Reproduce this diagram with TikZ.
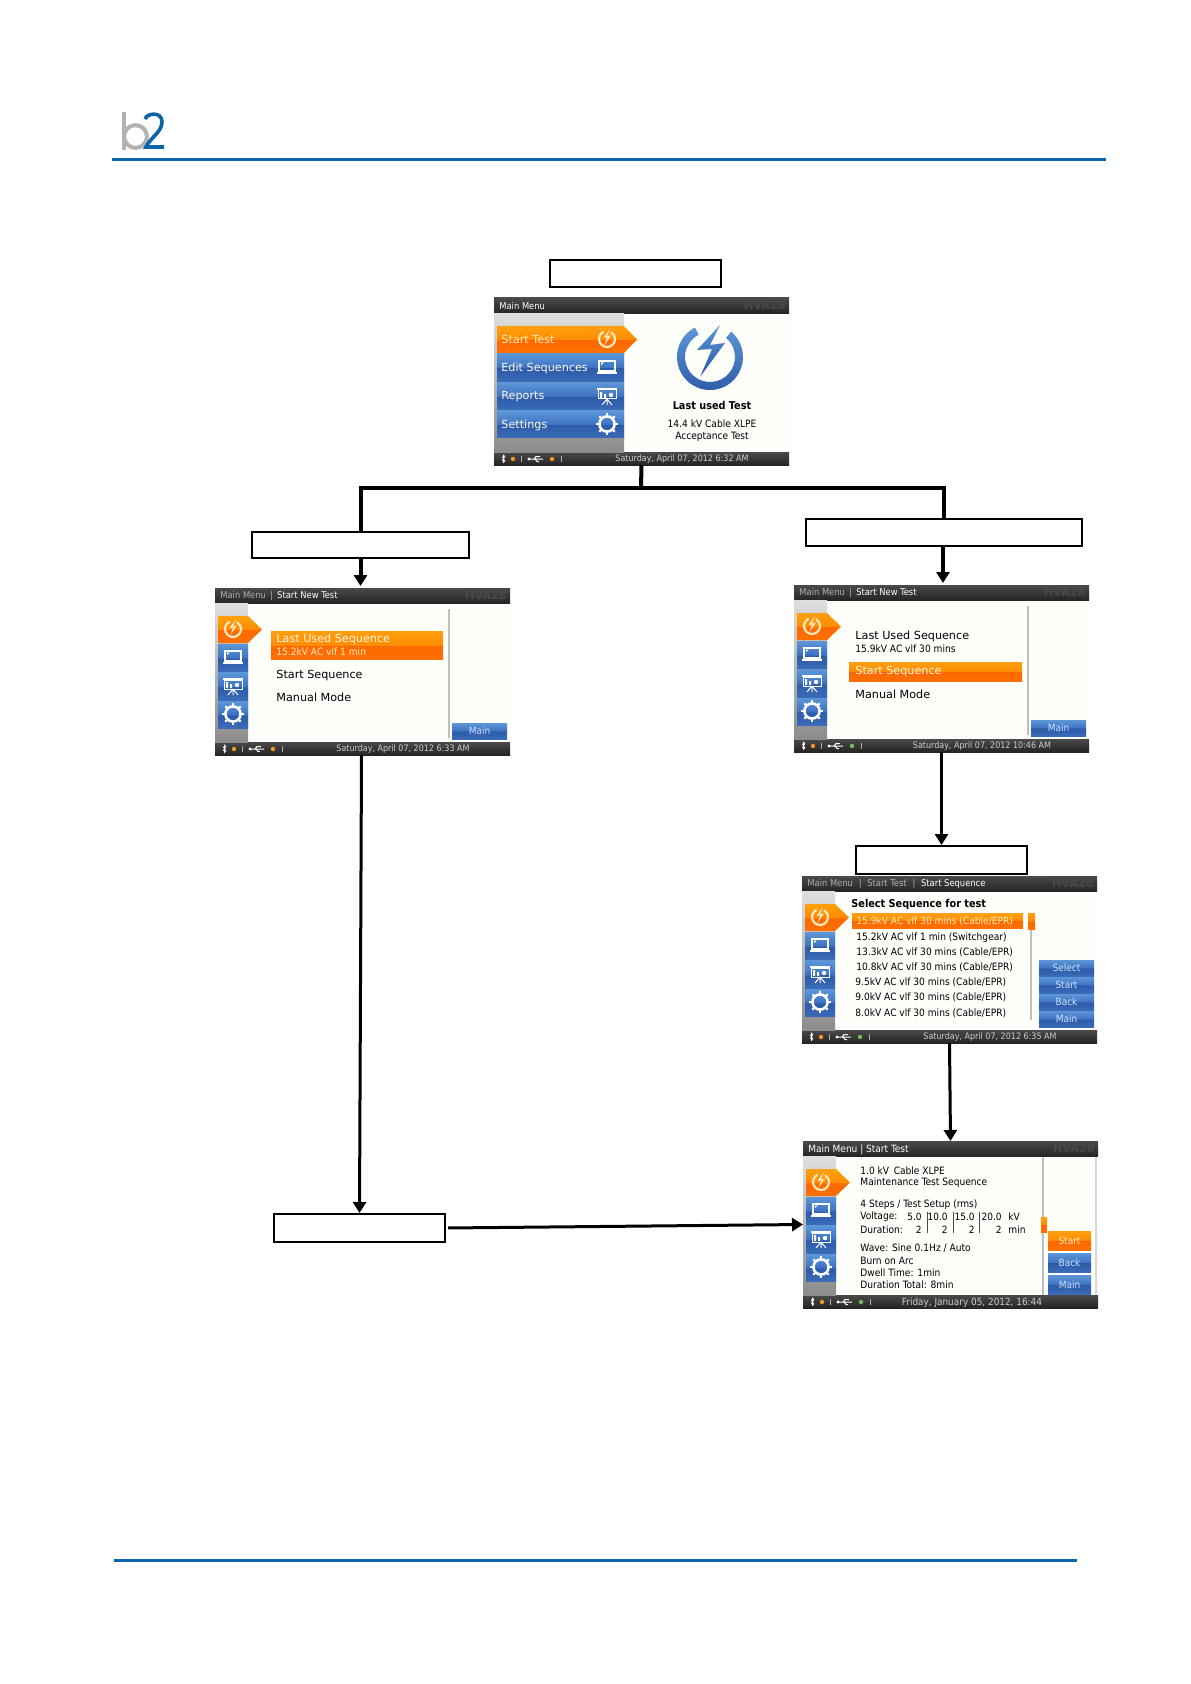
\documentclass[tikz,border=0pt]{standalone}
\usepackage{xcolor}
\usepackage{fontspec}
\setmainfont{DejaVu Sans}
\newfontfamily\narrowfont{DejaVu Sans Condensed}
\usetikzlibrary{arrows.meta,positioning,calc}
\definecolor{ruleblue}{RGB}{10,100,170}
\definecolor{logogray}{RGB}{178,178,178}
\definecolor{panelwhite}{RGB}{254,254,250}
\definecolor{barhigh}{RGB}{92,150,215}
\definecolor{barmid}{RGB}{62,115,195}
\definecolor{barlow}{RGB}{44,90,168}
\definecolor{barbase}{RGB}{58,108,184}
\definecolor{orhigh}{RGB}{255,160,16}
\definecolor{ormid}{RGB}{255,140,0}
\definecolor{orlow}{RGB}{255,104,0}
\definecolor{orbase}{RGB}{255,112,0}
\definecolor{paleorange}{RGB}{255,232,190}
\definecolor{darkhigh}{RGB}{74,74,74}
\definecolor{darklow}{RGB}{36,36,36}
\definecolor{ghost}{RGB}{72,72,72}
\definecolor{dimtext}{RGB}{176,176,176}
\definecolor{datetext}{RGB}{205,205,205}
\definecolor{btntext}{RGB}{205,225,250}
\definecolor{sidehigh}{RGB}{222,222,222}
\definecolor{sidelow}{RGB}{140,140,140}
\definecolor{ledorange}{RGB}{240,150,40}
\definecolor{ledgreen}{RGB}{110,190,90}
\definecolor{linegray}{RGB}{190,190,190}
\pgfdeclareverticalshading{bluegloss}{100bp}{color(0bp)=(barbase);color(25bp)=(barbase);color(49.9bp)=(barlow);color(50bp)=(barmid);color(75bp)=(barhigh);color(100bp)=(barhigh)}
\pgfdeclareverticalshading{orangegloss}{100bp}{color(0bp)=(orbase);color(25bp)=(orbase);color(49.9bp)=(orlow);color(50bp)=(ormid);color(75bp)=(orhigh);color(100bp)=(orhigh)}
% screen frame: title bar, status bar
\newcommand{\hvabase}[7]{%
  \begin{scope}[shift={(#2,#3)}]
    \node[screenbody] (#1) at (147.5,83.5) {};
    \shade[top color=darkhigh,bottom color=darklow] (0,0) rectangle (295,15.5);
    \shade[top color=darkhigh,bottom color=darklow] (0,154) rectangle (295,167);
    \node[crumb] (#1crumb) at (5,8.5) {#4};
    \node[ghostmark] (#1mark) at (292,7.8) {HVA28};
    \draw[white,line width=.3pt] (8,158.5) -- (11,163) -- (9.5,164.5) -- (9.5,157) -- (11,158.5) -- (8,163);
    \fill[ledorange] (19,161) circle (1.1pt);
    \draw[dimtext,line width=.3pt] (27,158) -- (27,164);
    \draw[white,line width=.5pt] (35,161) -- (49,161) (40,161) -- (42,158.5) -- (46,158.5) (41,161) -- (43,163.5) -- (45,163.5);
    \fill[white] (35,161) circle (.8pt);
    \fill[#6] (58,161) circle (1.1pt);
    \draw[dimtext,line width=.3pt] (67,158) -- (67,164);
    \node[datestamp] (#1date) at (#7,161.5) {#5};
  \end{scope}}
% icons, all at centre coordinates
\newcommand{\iconbolt}[2]{%
  \draw[paleorange,line width=1.1pt] (#1,#2) ++(115:4pt) arc[start angle=115,end angle=420,radius=4pt];
  \begin{scope}[shift={(#1,#2)}]
    \fill[paleorange] (3,-10) -- (-3.5,-1) -- (0,-1.5) -- (-2.5,6) -- (4,-3.5) -- (0,-3) -- cycle;
  \end{scope}}
\newcommand{\iconmonitor}[2]{%
  \begin{scope}[shift={(#1,#2)}]
    \draw[white,line width=.6pt] (-8,-6) rectangle (8,4);
    \draw[white,line width=.7pt] (-10,6) -- (10,6);
    \fill[white] (-6,-4.5) -- (-3,-4.5) -- (-6,-2) -- cycle;
  \end{scope}}
\newcommand{\iconboard}[2]{%
  \begin{scope}[shift={(#1,#2)}]
    \fill[white] (-10,-8) rectangle (10,-6);
    \draw[white,line width=.5pt] (-9,-6) rectangle (9,3);
    \fill[white] (-7,-4) rectangle (-5,2) (-3,-2) rectangle (-1,2);
    \fill[white] (4,-1) circle (1.1pt);
    \draw[white,line width=.5pt] (0,3) -- (-5,9) (0,3) -- (5,9) (0,3) -- (0,9);
  \end{scope}}
\newcommand{\icongear}[2]{%
  \begin{scope}[shift={(#1,#2)}]
    \draw[white,line width=1.3pt] (0,0) circle (3.8pt);
    \foreach \a in {0,45,...,315}
      \draw[white,line width=1.1pt] (\a:4.2pt) -- (\a:5.4pt);
  \end{scope}}
% narrow icon column of the inner screens
\newcommand{\hvaside}{%
  \shade[top color=sidehigh,bottom color=sidelow] (0,15.5) rectangle (33,154);
  \shade[shading=orangegloss] (3,28) -- (33,28) -- (47,41.5) -- (33,55) -- (3,55) -- cycle;
  \shade[shading=bluegloss] (3,56) rectangle (33,83.5);
  \shade[shading=bluegloss] (3,84.5) rectangle (33,112);
  \shade[shading=bluegloss] (3,113) rectangle (33,140);
  \iconbolt{18}{41}
  \iconmonitor{18}{69}
  \iconboard{18}{98}
  \icongear{18}{126}}
\begin{document}
\begin{tikzpicture}[x=.5pt,y=-.5pt,
  labelbox/.style={draw=black,line width=1pt,fill=white,inner sep=0pt},
  screenbody/.style={fill=panelwhite,inner sep=0pt,outer sep=0pt,minimum width=147.5pt,minimum height=83.5pt},
  crumb/.style={anchor=west,inner sep=0pt,text=white,font=\narrowfont\fontsize{4.65}{5}\selectfont},
  ghostmark/.style={anchor=east,inner sep=0pt,text=ghost,font=\bfseries\fontsize{5.6}{6}\selectfont},
  datestamp/.style={inner sep=0pt,text=datetext,font=\narrowfont\fontsize{4.45}{5}\selectfont},
  menutext/.style={anchor=west,inner sep=0pt,text=paleorange!40!white,font=\fontsize{5.6}{6}\selectfont},
  bodytext/.style={anchor=west,inner sep=0pt,text=black,font=\fontsize{5.6}{6}\selectfont},
  smalltext/.style={anchor=west,inner sep=0pt,text=black,font=\narrowfont\fontsize{5.05}{6}\selectfont},
  numtext/.style={anchor=east,inner sep=0pt,text=black,font=\narrowfont\fontsize{5}{6}\selectfont},
  hvabtn/.style={shade,shading=bluegloss,inner sep=0pt,text=btntext,font=\narrowfont\fontsize{5}{6}\selectfont},
  arrow/.style={-{Triangle[length=5.5pt,width=6.5pt]},line width=1.5pt,draw=black},
  heavy/.style={-{Triangle[length=5.5pt,width=6.5pt]},line width=2pt,draw=black,shorten >=1pt},
  branch/.style={line width=2pt,draw=black}
]
  \useasboundingbox (0,0) rectangle (1190,1684);
  % page furniture
  \draw[ruleblue,line width=1.5pt] (112,160) -- (1106,160);
  \draw[ruleblue,line width=1.5pt] (114,1560) -- (1077,1560);
  \draw[logogray,line width=2pt] (124,112) -- (124,150);
  \draw[logogray,line width=2pt] (135.5,136.5) circle (5.7pt);
  \draw[ruleblue,line width=1.8pt] (145,119) .. controls (147,113) and (162,111) .. (162,122) .. controls (162,132) and (150,138) .. (146,147) -- (164,147);

  % main menu
  \hvabase{mainmenu}{494}{298}{Main Menu}{Saturday, April 07, 2012 6:32 AM}{ledorange}{188}
  \begin{scope}[shift={(494,298)}]
    \shade[top color=sidehigh,bottom color=sidelow] (0,15.5) rectangle (130,154);
    \shade[shading=orangegloss] (3,28) -- (130,28) -- (143,41.5) -- (130,55) -- (3,55) -- cycle;
    \shade[shading=bluegloss] (3,56) rectangle (130,83.5);
    \shade[shading=bluegloss] (3,84.5) rectangle (130,112);
    \shade[shading=bluegloss] (3,113) rectangle (130,140);
    \node[menutext,text=paleorange] (starttest) at (7,41) {Start Test};
    \node[menutext] (editseq) at (7,70.5) {Edit Sequences};
    \node[menutext] (reports) at (7,99) {Reports};
    \node[menutext] (settings) at (7,127) {Settings};
    \iconbolt{113}{41}
    \iconmonitor{113}{69}
    \iconboard{113}{98}
    \icongear{113}{126}
    \shade[top color=barhigh,bottom color=barlow]
      (216,59) ++(117:16.5pt) arc[start angle=117,end angle=410,radius=16.5pt]
      -- ($(216,59)+(50:12.5pt)$) arc[start angle=410,end angle=117,radius=12.5pt] -- cycle;
    \begin{scope}[shift={(216,59)}]
      \shade[top color=barhigh,bottom color=barlow] (10,-32) -- (-13,-7) -- (2,-8) -- (-10,20) -- (15,-14) -- (0,-12) -- cycle;
    \end{scope}
    \node[inner sep=0pt,font=\narrowfont\bfseries\fontsize{5.4}{6}\selectfont] (lastused) at (218,107) {Last used Test};
    \node[inner sep=0pt,font=\narrowfont\fontsize{5.05}{6}\selectfont] (lastcable) at (218,125.5) {14.4 kV Cable XLPE};
    \node[inner sep=0pt,font=\narrowfont\fontsize{5.05}{6}\selectfont] (lastaccept) at (218,138.5) {Acceptance Test};
  \end{scope}

  % start test, last used sequence
  \hvabase{lastscreen}{215}{588}{\textcolor{dimtext}{Main Menu \,|} \,Start New Test}{Saturday, April 07, 2012 6:33 AM}{ledorange}{188}
  \begin{scope}[shift={(215,588)}]
    \hvaside
    \shade[shading=orangegloss] (56,43) rectangle (228,71);
    \node[menutext] (lastseq) at (61,51) {Last Used Sequence};
    \node[smalltext,text=paleorange] (lastvalue) at (61,64) {15.2kV AC vlf 1 min};
    \node[bodytext] (laststart) at (61,87.5) {Start Sequence};
    \node[bodytext] (lastmanual) at (61,109) {Manual Mode};
    \draw[linegray,line width=.6pt] (234,21) -- (234,150);
    \node[hvabtn,minimum width=27.5pt,minimum height=8pt] (lastmain) at (264.5,143) {Main};
  \end{scope}

  % start test, start sequence
  \hvabase{startscreen}{794}{585}{\textcolor{dimtext}{Main Menu \,|} \,Start New Test}{Saturday, April 07, 2012 10:46 AM}{ledgreen}{188}
  \begin{scope}[shift={(794,585)}]
    \hvaside
    \shade[shading=orangegloss] (55,77) rectangle (228,96);
    \node[bodytext] (startlast) at (61,51) {Last Used Sequence};
    \node[smalltext] (startvalue) at (61,64) {15.9kV AC vlf 30 mins};
    \node[menutext] (startseq) at (61,87) {Start Sequence};
    \node[bodytext] (startmanual) at (61,109) {Manual Mode};
    \draw[linegray,line width=.6pt] (234,21) -- (234,150);
    \node[hvabtn,minimum width=27.5pt,minimum height=8pt] (startmain) at (264.5,143) {Main};
  \end{scope}

  % sequence list
  \hvabase{listscreen}{802}{876}{\textcolor{dimtext}{Main Menu \,\,| \,\,Start Test \,\,|} \,\,Start Sequence}{Saturday, April 07, 2012 6:35 AM}{ledgreen}{188}
  \begin{scope}[shift={(802,876)}]
    \hvaside
    \node[bodytext,font=\narrowfont\bfseries\fontsize{5.4}{6}\selectfont] (listhead) at (49,28.5) {Select Sequence for test};
    \shade[shading=orangegloss] (50,37) rectangle (221,52);
    \node[smalltext,text=paleorange] (seqa) at (54,45) {15.9kV AC vlf 30 mins (Cable/EPR)};
    \node[smalltext] (seqb) at (54,61.5) {15.2kV AC vlf 1 min (Switchgear)};
    \node[smalltext] (seqc) at (54,76.5) {13.3kV AC vlf 30 mins (Cable/EPR)};
    \node[smalltext] (seqd) at (54,91.5) {10.8kV AC vlf 30 mins (Cable/EPR)};
    \node[smalltext] (seqe) at (53,106.5) {9.5kV AC vlf 30 mins (Cable/EPR)};
    \node[smalltext] (seqf) at (53,121.5) {9.0kV AC vlf 30 mins (Cable/EPR)};
    \node[smalltext] (seqg) at (53,137.5) {8.0kV AC vlf 30 mins (Cable/EPR)};
    \draw[linegray,line width=.6pt] (229,42) -- (229,144);
    \shade[shading=orangegloss] (226,37) rectangle (233,53);
    \node[hvabtn,minimum width=27.5pt,minimum height=8pt] (listselect) at (264.5,92) {Select};
    \node[hvabtn,minimum width=27.5pt,minimum height=8pt] (liststart) at (264.5,109) {Start};
    \node[hvabtn,minimum width=27.5pt,minimum height=8pt] (listback) at (264.5,126) {Back};
    \node[hvabtn,minimum width=27.5pt,minimum height=8pt] (listmain) at (264.5,143) {Main};
  \end{scope}

  % test setup
  \hvabase{setupscreen}{803}{1141}{\fontsize{5}{6}\selectfont Main Menu | Start Test}{\fontsize{4.95}{6}\selectfont Friday, January 05, 2012, 16:44}{ledgreen}{169}
  \begin{scope}[shift={(803,1141)}]
    \hvaside
    \node[smalltext] (setupa) at (57,30) {1.0 kV \,Cable XLPE};
    \node[smalltext] (setupb) at (57,42) {Maintenance Test Sequence};
    \node[smalltext] (setupc) at (57,64) {4 Steps / Test Setup (rms)};
    \node[smalltext] (setupv) at (57,75.5) {Voltage:};
    \node[smalltext] (setupd) at (57,88.5) {Duration:};
    \foreach \x/\vv/\dd [count=\i] in {119/5.0/2,145/10.0/2,172/15.0/2,199/20.0/2} {
      \node[numtext] (volt\i) at (\x,75.5) {\vv};
      \node[numtext] (dura\i) at (\x,88.5) {\dd};
    }
    \foreach \x in {124,150,176}
      \draw[darkhigh,line width=.4pt] (\x,71) -- (\x,92);
    \node[smalltext] (setupkv) at (205,75.5) {kV};
    \node[smalltext] (setupmin) at (205,88.5) {min};
    \node[smalltext] (setupe) at (57,107.5) {Wave: Sine 0.1Hz / Auto};
    \node[smalltext] (setupf) at (57,119.5) {Burn on Arc};
    \node[smalltext] (setupg) at (57,131.5) {Dwell Time: 1min};
    \node[smalltext] (setuph) at (57,143.5) {Duration Total: 8min};
    \draw[linegray,line width=.6pt] (240,15.5) -- (240,154);
    \draw[linegray!60,line width=.8pt] (293,15.5) -- (293,154);
    \shade[shading=orangegloss] (238,76) rectangle (244,91);
    \node[hvabtn,shading=orangegloss,text=paleorange,minimum width=21.5pt,minimum height=9.5pt] (setupstart) at (266.5,99.5) {Start};
    \node[hvabtn,minimum width=21.5pt,minimum height=9.5pt] (setupback) at (266.5,121.5) {Back};
    \node[hvabtn,minimum width=21.5pt,minimum height=9.5pt] (setupmain) at (266.5,143.5) {Main};
  \end{scope}

  % blank labels
  \node[labelbox,minimum width=85.5pt,minimum height=13.5pt] (mainlabel) at (635.5,273.5) {};
  \node[labelbox,minimum width=108.5pt,minimum height=13pt] (lastlabel) at (360.5,545) {};
  \node[labelbox,minimum width=138pt,minimum height=13.5pt] (startlabel) at (944,532.5) {};
  \node[labelbox,minimum width=85.5pt,minimum height=14pt] (listlabel) at (941.5,860) {};
  \node[labelbox,minimum width=85.5pt,minimum height=14pt] (setuplabel) at (359.5,1228) {};

  % connectors
  \coordinate (split) at (641,488);
  \draw[branch] (mainmenu.south) -- (split);
  \draw[branch] (lastlabel.north) -- (lastlabel.north |- split) -- (startlabel.north |- split) -- (startlabel.north);
  \draw[heavy] (lastlabel.south) -- (lastlabel.south |- lastscreen.north);
  \draw[heavy] ([xshift=-.5pt]startlabel.south) -- ([xshift=-.5pt]startlabel.south |- startscreen.north);
  \draw[arrow] ([xshift=-.5pt]lastscreen.south) -- (setuplabel.north);
  \draw[arrow] (startscreen.south) -- (listlabel.north);
  \draw[arrow] (listscreen.south) -- (setupscreen.north);
  \draw[arrow,shorten <=1pt] (setuplabel.east) -- (setupscreen.west);
\end{tikzpicture}
\end{document}
